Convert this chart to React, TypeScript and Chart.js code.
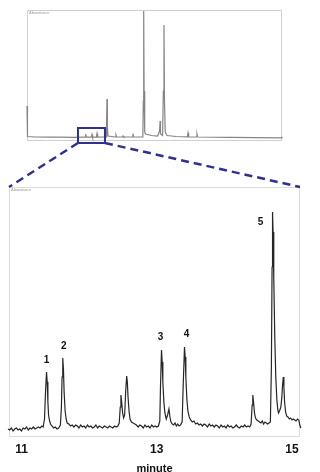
import { useEffect, useRef } from "react";
import { Chart, registerables } from "chart.js";

Chart.register(...registerables);

// ---------- overview chromatogram (top) ----------
const overviewTimes = [
  2.69, 2.73, 2.8, 4, 6, 8, 10, 11.95, 12.05, 12.15, 12.95, 13.05, 13.15, 13.75, 13.85, 13.95,
  15.3, 15.38, 15.44, 15.5, 15.6, 16.75, 16.87, 16.98, 17.9, 18.0, 18.1, 19.48, 19.58, 19.68,
  21.15, 21.23, 21.29, 21.35, 21.45, 21.6, 22.5, 23.5, 23.82, 23.9, 23.97, 24.3, 24.42, 24.52,
  24.6, 24.72, 25.0, 26.5, 28.25, 28.35, 28.45, 29.68, 29.78, 29.88, 35, 43.3, 43.36, 45.9,
];
const overviewSignal = [
  35, 8, 4.5, 4, 3.8, 3.8, 3.7, 3.8, 7, 3.8, 3.8, 6.5, 3.8, 3.8, 7.5, 3.8,
  4, 20, 42, 14, 5, 4, 6, 4, 4, 5, 4, 4, 7.5, 4,
  4, 40, 130, 50, 9, 7, 5.5, 5, 10, 20, 7, 5.5, 50, 116,
  40, 9, 5.5, 4.5, 4.2, 8, 4.2, 4, 7, 4, 3.6, 3.2, 4.3, 4.3,
];
const overviewRange = [2.69, 43.33];
const overviewSignalRange = [0, 131];
const zoomWindow = [10.815, 15.118];
const zoomBoxSignal = [-2, 13];
const overviewNote = "Abundance";

// ---------- detail chromatogram (bottom) ----------
const detailTimes = [
  10.8, 10.825, 10.85, 10.875, 10.9, 10.925, 10.95, 10.975, 11.0, 11.025, 11.05, 11.075, 11.1,
  11.125, 11.15, 11.175, 11.2, 11.225, 11.25, 11.275, 11.3, 11.32, 11.34, 11.355, 11.37, 11.38,
  11.39, 11.4, 11.415, 11.43, 11.45, 11.475, 11.5, 11.525, 11.55, 11.575, 11.59, 11.6, 11.61,
  11.62, 11.63, 11.645, 11.66, 11.675, 11.7, 11.725, 11.75, 11.775, 11.8, 11.825, 11.85, 11.875,
  11.9, 11.925, 11.95, 11.975, 12.0, 12.025, 12.05, 12.075, 12.1, 12.125, 12.15, 12.175, 12.2,
  12.225, 12.25, 12.275, 12.3, 12.325, 12.35, 12.375, 12.4, 12.425, 12.445, 12.46, 12.47, 12.48,
  12.495, 12.51, 12.525, 12.54, 12.555, 12.565, 12.575, 12.59, 12.605, 12.625, 12.65, 12.675,
  12.7, 12.725, 12.75, 12.775, 12.8, 12.825, 12.85, 12.875, 12.9, 12.925, 12.95, 12.975, 13.0,
  13.025, 13.045, 13.055, 13.07, 13.08, 13.09, 13.105, 13.12, 13.14, 13.16, 13.18, 13.195, 13.21,
  13.23, 13.25, 13.27, 13.29, 13.31, 13.33, 13.35, 13.375, 13.39, 13.41, 13.42, 13.43, 13.445,
  13.46, 13.48, 13.5, 13.525, 13.55, 13.575, 13.6, 13.625, 13.65, 13.675, 13.7, 13.725, 13.75,
  13.775, 13.8, 13.825, 13.85, 13.875, 13.9, 13.925, 13.95, 13.975, 14.0, 14.025, 14.05, 14.075,
  14.1, 14.125, 14.15, 14.175, 14.2, 14.225, 14.25, 14.275, 14.3, 14.325, 14.35, 14.375, 14.395,
  14.41, 14.42, 14.43, 14.445, 14.46, 14.48, 14.5, 14.52, 14.54, 14.56, 14.58, 14.6, 14.62, 14.64,
  14.66, 14.68, 14.695, 14.705, 14.712, 14.72, 14.73, 14.745, 14.76, 14.775, 14.79, 14.8, 14.815,
  14.835, 14.85, 14.86, 14.871, 14.88, 14.89, 14.905, 14.92, 14.94, 14.96, 14.98, 15.0, 15.02,
  15.04, 15.06, 15.08, 15.1, 15.115, 15.13, 15.25, 15.41,
];
const detailSignal = [
  8, 7, 9, 6, 8, 9, 7, 8, 6, 9, 8, 10, 7,
  9, 8, 10, 8, 9, 10, 9, 11, 10, 18, 45, 65, 55,
  35, 22, 16, 13, 11, 9, 10, 8, 9, 12, 30, 60, 79,
  68, 45, 26, 18, 14, 13, 11, 12, 10, 12, 11, 9, 12,
  10, 11, 9, 12, 10, 11, 9, 10, 12, 9, 11, 10, 9,
  11, 10, 9, 11, 10, 9, 11, 10, 11, 14, 30, 42, 36,
  24, 19, 22, 45, 61, 55, 40, 26, 18, 15, 14, 13,
  12, 10, 12, 11, 9, 12, 10, 11, 9, 12, 10, 11, 10,
  11, 16, 50, 87, 75, 55, 35, 24, 18, 22, 28, 20, 15,
  13, 12, 14, 11, 13, 11, 12, 15, 50, 90, 80, 60, 38,
  26, 20, 17, 15, 16, 13, 14, 12, 13, 11, 13, 12, 10,
  13, 11, 12, 10, 12, 11, 9, 12, 10, 11, 9, 12, 10,
  11, 9, 10, 12, 10, 9, 11, 10, 12, 10, 11, 10, 13,
  32, 42, 36, 24, 19, 17, 16, 15, 14, 16, 13, 15, 14, 13,
  14, 15, 70, 170, 225, 205, 160, 100, 60, 38, 27, 24, 26,
  30, 40, 52, 60, 50, 35, 25, 21, 20, 18, 19, 17, 18,
  17, 16, 18, 17, 12, 9, 8, 8,
];
const detailRange = [10.815, 15.118];
const detailSignalRange = [0, 250];
const detailTicks = [11, 13, 15];
const detailTickLabels = ["11", "13", "15"];
const axisTitle = "minute";
const detailNote = "Abundance";

// numbered peaks
const peakNumbers = ["1", "2", "3", "4", "5"];
const peakTimes = [11.37, 11.61, 13.07, 13.41, 14.712];
const peakHeights = [65, 79, 87, 90, 225];

const FONT = '"Liberation Sans", Arial, Helvetica, sans-serif';

function framePlugin(color: string) {
  return {
    id: "frame",
    beforeDatasetsDraw(chart: any) {
      const { ctx, chartArea: a } = chart;
      ctx.save();
      ctx.strokeStyle = color;
      ctx.lineWidth = 1;
      ctx.strokeRect(a.left + 0.5, a.top + 0.5, a.right - a.left - 1, a.bottom - a.top - 1);
      ctx.restore();
    },
  };
}

function notePlugin(text: string) {
  return {
    id: "note",
    afterDatasetsDraw(chart: any) {
      const { ctx, chartArea: a } = chart;
      ctx.save();
      ctx.fillStyle = "#9a9a9a";
      ctx.font = `4px ${FONT}`;
      ctx.textAlign = "left";
      ctx.textBaseline = "top";
      ctx.fillText(text, a.left + 2, a.top + 1);
      ctx.restore();
    },
  };
}

export default function App() {
  const topRef = useRef<HTMLCanvasElement>(null);
  const bottomRef = useRef<HTMLCanvasElement>(null);

  useEffect(() => {
    if (!topRef.current || !bottomRef.current) return;

    const peakLabelPlugin = {
      id: "peakLabels",
      afterDatasetsDraw(chart: any) {
        const { ctx } = chart;
        const xs = chart.scales.x;
        const ys = chart.scales.y;
        const offsets = [
          [0, -12],
          [1, -12],
          [-1, -13],
          [2, -13],
          [-12, 10],
        ];
        ctx.save();
        ctx.fillStyle = "#111";
        ctx.font = `bold 10px ${FONT}`;
        ctx.textAlign = "center";
        ctx.textBaseline = "middle";
        peakNumbers.forEach((n, i) => {
          const x = xs.getPixelForValue(peakTimes[i]) + offsets[i][0];
          const y = ys.getPixelForValue(peakHeights[i]) + offsets[i][1];
          ctx.fillText(n, x, y);
        });
        ctx.restore();
      },
    };

    const bottom = new Chart(bottomRef.current, {
      type: "line",
      data: {
        datasets: [
          {
            data: detailTimes.map((t, i) => ({ x: t, y: detailSignal[i] })),
            borderColor: "#262626",
            borderWidth: 1.2,
            pointRadius: 0,
            tension: 0,
            clip: false as any,
          },
        ],
      },
      options: {
        animation: false,
        responsive: false,
        events: [],
        layout: { padding: { left: 9, top: 187, right: 20, bottom: 0 } },
        plugins: { legend: { display: false }, tooltip: { enabled: false } },
        scales: {
          x: {
            type: "linear",
            min: detailRange[0],
            max: detailRange[1],
            afterBuildTicks: (s: any) => {
              s.ticks = detailTicks.map((v) => ({ value: v }));
            },
            afterFit: (s: any) => {
              s.height = 35;
            },
            grid: { display: false, drawTicks: false },
            border: { display: false },
            ticks: {
              autoSkip: false,
              maxRotation: 0,
              padding: 5,
              color: "#111",
              font: { family: FONT, size: 12, weight: "bold" },
              callback: (_v: any, i: number) => detailTickLabels[i],
            },
            title: {
              display: true,
              text: axisTitle,
              color: "#111",
              font: { family: FONT, size: 11, weight: "bold", lineHeight: 1 },
              padding: { top: 0, bottom: -2 },
            },
          },
          y: {
            display: false,
            min: detailSignalRange[0],
            max: detailSignalRange[1],
          },
        },
      },
      plugins: [framePlugin("#dcdcdc"), notePlugin(detailNote), peakLabelPlugin],
    });

    const zoomPlugin = {
      id: "zoomBox",
      afterDatasetsDraw(chart: any) {
        const { ctx } = chart;
        const xs = chart.scales.x;
        const ys = chart.scales.y;
        const x1 = xs.getPixelForValue(zoomWindow[0]);
        const x2 = xs.getPixelForValue(zoomWindow[1]);
        const yTop = ys.getPixelForValue(zoomBoxSignal[1]);
        const yBot = ys.getPixelForValue(zoomBoxSignal[0]);
        const b = bottom.chartArea;
        ctx.save();
        ctx.strokeStyle = "#2e3192";
        ctx.lineWidth = 2;
        ctx.strokeRect(x1, yTop, x2 - x1, yBot - yTop);
        ctx.lineWidth = 2.5;
        ctx.setLineDash([8, 5]);
        ctx.beginPath();
        ctx.moveTo(x1, yBot);
        ctx.lineTo(b.left, b.top);
        ctx.moveTo(x2, yBot);
        ctx.lineTo(b.right, b.top);
        ctx.stroke();
        ctx.restore();
      },
    };

    const top = new Chart(topRef.current, {
      type: "line",
      data: {
        datasets: [
          {
            data: overviewTimes.map((t, i) => ({ x: t, y: overviewSignal[i] })),
            borderColor: "#858585",
            borderWidth: 1.2,
            pointRadius: 0,
            tension: 0,
            clip: false as any,
          },
        ],
      },
      options: {
        animation: false,
        responsive: false,
        events: [],
        layout: { padding: { left: 27, top: 10, right: 38, bottom: 331 } },
        plugins: { legend: { display: false }, tooltip: { enabled: false } },
        scales: {
          x: { type: "linear", display: false, min: overviewRange[0], max: overviewRange[1] },
          y: { display: false, min: overviewSignalRange[0], max: overviewSignalRange[1] },
        },
      },
      plugins: [framePlugin("#cfcfcf"), notePlugin(overviewNote), zoomPlugin],
    });

    return () => {
      top.destroy();
      bottom.destroy();
    };
  }, []);

  return (
    <div style={{ position: "fixed", left: 0, top: 0, width: 320, height: 472, background: "#fff" }}>
      <canvas
        ref={bottomRef}
        width={320}
        height={472}
        style={{ position: "absolute", left: 0, top: 0, width: 320, height: 472 }}
      />
      <canvas
        ref={topRef}
        width={320}
        height={472}
        style={{ position: "absolute", left: 0, top: 0, width: 320, height: 472, pointerEvents: "none" }}
      />
    </div>
  );
}
